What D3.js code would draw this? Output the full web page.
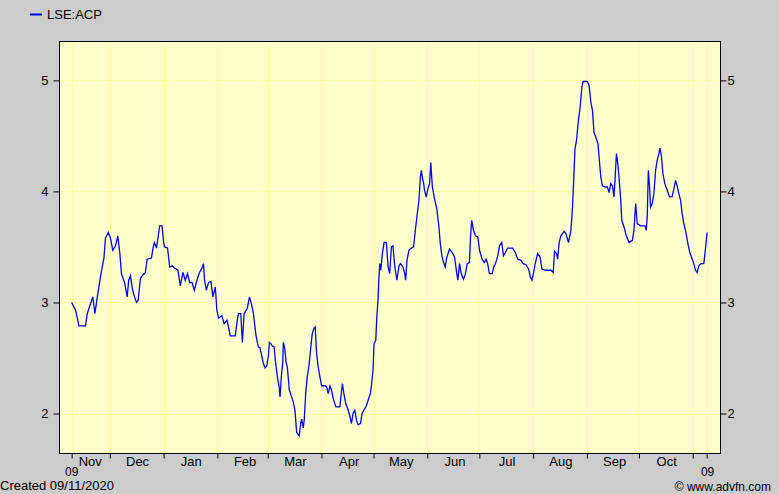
<!DOCTYPE html>
<html>
<head>
<meta charset="utf-8">
<script src="https://cdn.jsdelivr.net/npm/d3@7"></script>
<style>
  html, body { margin: 0; padding: 0; background: #cccccc; }
  svg { display: block; }
  text { font-family: "Liberation Sans", Arial, sans-serif; fill: #000; }
</style>
</head>
<body>
<svg id="chart" width="779" height="494"></svg>
<script>
// ---- data (days after 9 Nov 2019, closing price) ----
const seriesName = "LSE:ACP";
const dayOffsets = [0,1.3,2.3,4.2,8.0,9.0,10.5,12.2,13.4,14.8,16.7,18.6,19.5,21.1,22.4,23.7,25.3,26.6,27.8,28.7,30.5,32.0,32.9,33.9,34.9,36.2,37.4,38.3,39.7,41.2,42.5,43.5,46.0,47.0,47.7,48.9,50.2,50.7,52.1,53.0,53.6,55.3,56.5,57.9,59.2,61.3,62.6,64.2,65.5,66.8,68.0,69.4,70.7,72.2,73.7,75.1,76.0,76.6,77.6,78.9,80.3,81.4,82.8,83.7,84.7,86.6,87.9,89.5,90.4,91.4,94.3,95.2,96.1,97.5,98.4,99.4,101.3,102.5,103.4,104.8,105.2,106.3,107.6,108.6,109.6,110.5,111.5,112.5,113.4,114.0,114.8,115.5,116.7,117.4,118.6,119.7,120.1,120.9,121.7,122.0,122.8,123.6,124.3,125.5,126.8,127.8,128.7,129.7,131.2,132.0,132.6,133.5,134.1,134.9,135.8,136.8,137.8,138.7,139.7,140.4,141.2,142.1,143.1,144.1,146.0,147.0,147.9,148.9,149.8,150.7,152.3,154.6,155.6,156.1,156.9,158.0,159.4,160.3,161.3,162.2,163.2,164.2,165.1,166.5,167.4,168.4,169.9,171.3,172.2,172.8,173.7,174.3,175.3,175.9,176.6,177.0,177.6,178.2,179.1,180.1,181.4,182.4,183.3,184.3,185.2,186.2,187.5,188.7,189.5,191.0,192.0,192.5,193.3,194.4,195.8,197.1,198.1,199.0,200.2,201.0,201.6,202.1,202.9,203.4,204.4,205.3,206.3,207.0,207.9,209.2,210.5,211.7,212.5,213.4,214.4,215.3,216.3,217.8,219.4,220.7,222.0,222.6,223.6,224.5,225.9,227.0,228.0,229.3,229.9,230.6,231.6,232.8,234.1,235.1,236.6,237.9,238.9,239.8,240.8,242.4,243.3,244.3,245.6,246.6,247.9,248.9,250.0,251.3,254.2,255.7,257.1,259.0,260.3,261.9,263.4,264.4,265.3,266.3,267.2,268.6,270.0,271.1,273.4,276.3,277.6,278.3,279.5,280.1,281.0,282.0,283.9,284.9,286.4,287.8,288.7,289.3,290.1,291.0,292.1,293.1,294.1,294.8,297.3,298.3,299.3,300.2,301.1,302.1,303.4,304.0,305.0,305.9,307.5,308.8,309.8,310.7,311.7,312.6,313.2,314.0,314.8,315.5,316.5,317.1,318.4,319.7,321.3,323.2,324.1,325.1,326.0,328.0,330.5,331.2,331.8,332.4,333.1,333.7,334.7,335.6,336.6,337.5,338.5,339.1,340.0,340.8,341.9,343.3,344.6,346.1,347.1,348.1,349.0,350.0,351.0,351.9,352.9,354.2,355.2,356.3,357.7,358.6,359.6,360.5,361.5,362.8,364.4,365.3,366.3];
const prices = [3.00,2.96,2.93,2.79,2.79,2.90,2.97,3.05,2.90,3.05,3.24,3.40,3.58,3.63,3.58,3.47,3.51,3.60,3.44,3.26,3.18,3.05,3.20,3.24,3.13,3.05,3.00,3.02,3.22,3.25,3.27,3.39,3.40,3.50,3.54,3.49,3.63,3.69,3.69,3.54,3.50,3.49,3.32,3.33,3.31,3.29,3.15,3.27,3.20,3.26,3.18,3.18,3.11,3.20,3.27,3.31,3.35,3.20,3.11,3.18,3.19,3.05,3.14,2.93,2.86,2.88,2.81,2.84,2.78,2.70,2.70,2.81,2.90,2.90,2.64,2.90,2.95,3.05,3.00,2.90,2.84,2.70,2.60,2.59,2.52,2.45,2.41,2.43,2.52,2.64,2.63,2.61,2.60,2.48,2.33,2.23,2.15,2.34,2.46,2.64,2.59,2.46,2.42,2.21,2.15,2.10,2.03,1.83,1.80,1.91,1.95,1.87,1.95,2.18,2.33,2.43,2.59,2.72,2.77,2.78,2.54,2.42,2.33,2.25,2.25,2.24,2.18,2.25,2.21,2.14,2.06,2.06,2.21,2.27,2.18,2.09,2.03,1.98,1.91,2.00,2.03,1.94,1.90,1.91,2.00,2.03,2.07,2.14,2.18,2.25,2.39,2.63,2.66,2.87,3.02,3.18,3.35,3.29,3.44,3.54,3.54,3.32,3.26,3.50,3.51,3.33,3.20,3.33,3.35,3.32,3.26,3.20,3.38,3.47,3.49,3.50,3.65,3.77,3.92,4.13,4.19,4.13,4.07,4.01,3.95,4.02,4.07,4.26,4.04,3.93,3.84,3.68,3.53,3.42,3.36,3.32,3.41,3.48,3.45,3.41,3.26,3.20,3.35,3.26,3.21,3.26,3.35,3.36,3.59,3.74,3.65,3.60,3.59,3.47,3.39,3.36,3.39,3.35,3.26,3.26,3.32,3.35,3.42,3.51,3.54,3.42,3.45,3.49,3.49,3.45,3.39,3.38,3.35,3.34,3.30,3.23,3.20,3.27,3.35,3.44,3.41,3.30,3.29,3.29,3.27,3.46,3.44,3.39,3.54,3.60,3.64,3.62,3.54,3.65,3.86,4.07,4.38,4.46,4.64,4.76,4.94,4.99,4.99,4.95,4.80,4.73,4.53,4.49,4.43,4.31,4.13,4.05,4.04,4.04,3.99,4.07,4.05,3.95,4.10,4.34,4.25,4.13,3.92,3.74,3.68,3.60,3.54,3.56,3.65,3.89,3.71,3.69,3.69,3.65,3.78,4.19,4.05,3.86,3.89,3.98,4.19,4.28,4.34,4.39,4.31,4.16,4.07,4.01,3.95,3.95,4.02,4.10,4.05,3.98,3.92,3.80,3.71,3.62,3.53,3.45,3.39,3.35,3.29,3.27,3.33,3.35,3.35,3.48,3.63];
const yTickValues = [2, 3, 4, 5];
const monthLabels = ["Dec","Jan","Feb","Mar","Apr","May","Jun","Jul","Aug","Sep","Oct"];
const firstLabel = "Nov";
const yearLabel = "09";
const createdText = "Created 09/11/2020";
const creditText = "\u00A9 www.advfn.com";

// ---- layout ----
const W = 779, H = 494;
const plot = { left: 59.5, right: 720.5, top: 41.5, bottom: 453.5 };
const DAY = 864e5;
const startDate = new Date(Date.UTC(2019, 10, 9));
const endDate = new Date(Date.UTC(2020, 10, 9));

const x = d3.scaleUtc()
  .domain([new Date(Date.UTC(2019, 10, 2)), new Date(Date.UTC(2020, 10, 17))])
  .range([plot.left, plot.right]);
const y = d3.scaleLinear().domain([1.64, 5.35]).range([plot.bottom, plot.top]);

const data = d3.zip(dayOffsets, prices).map(([d, v]) => ({ date: new Date(startDate.getTime() + d * DAY), value: v }));

const monthStarts = d3.utcMonth.range(new Date(Date.UTC(2019, 11, 1)), new Date(Date.UTC(2020, 10, 2)));
const tickDates = [startDate, ...monthStarts, endDate];

const svg = d3.select("#chart");
svg.append("rect").attr("width", W).attr("height", H).attr("fill", "#cccccc");

// plot background
svg.append("rect")
  .attr("x", plot.left).attr("y", plot.top)
  .attr("width", plot.right - plot.left).attr("height", plot.bottom - plot.top)
  .attr("fill", "#ffffcc");

// gridlines
const grid = svg.append("g").attr("stroke", "#ffff99").attr("stroke-width", 1).attr("shape-rendering", "crispEdges");
grid.selectAll("line.v").data(tickDates).join("line")
  .attr("x1", d => Math.round(x(d)) + 0.5).attr("x2", d => Math.round(x(d)) + 0.5)
  .attr("y1", plot.top).attr("y2", plot.bottom);
grid.selectAll("line.h").data(yTickValues).join("line")
  .attr("x1", plot.left).attr("x2", plot.right)
  .attr("y1", d => Math.round(y(d)) + 0.5).attr("y2", d => Math.round(y(d)) + 0.5);

// series line
const line = d3.line().x(d => x(d.date)).y(d => y(d.value));
svg.append("path").datum(data)
  .attr("d", line)
  .attr("fill", "none")
  .attr("stroke", "#0000ff")
  .attr("stroke-width", 1.3)
  .attr("stroke-linejoin", "miter");

// border
svg.append("rect")
  .attr("x", plot.left).attr("y", plot.top)
  .attr("width", plot.right - plot.left).attr("height", plot.bottom - plot.top)
  .attr("fill", "none").attr("stroke", "#000").attr("stroke-width", 1);

// left axis
const leftAxis = d3.axisLeft(y).tickValues(yTickValues).tickSize(6).tickPadding(5).tickFormat(d3.format("d"));
const gl = svg.append("g").attr("transform", `translate(${plot.left},0)`).call(leftAxis);
gl.select(".domain").remove();
gl.selectAll("text").attr("font-size", 13).attr("font-family", "Liberation Sans, Arial, sans-serif");

// right axis
const rightAxis = d3.axisRight(y).tickValues(yTickValues).tickSize(6).tickPadding(1).tickFormat(d3.format("d"));
const gr = svg.append("g").attr("transform", `translate(${plot.right},0)`).call(rightAxis);
gr.select(".domain").remove();
gr.selectAll("text").attr("font-size", 13).attr("font-family", "Liberation Sans, Arial, sans-serif");

// bottom axis ticks
const bottomAxis = d3.axisBottom(x).tickValues(tickDates).tickSize(5).tickFormat("");
const gb = svg.append("g").attr("transform", `translate(0,${plot.bottom})`).call(bottomAxis);
gb.select(".domain").remove();

// month labels
const lab = svg.append("g").attr("font-size", 13);
lab.append("text").attr("x", x(startDate) + 7).attr("y", 466).text(firstLabel);
lab.selectAll("text.m").data(monthStarts.slice(0, monthLabels.length)).join("text")
  .attr("class", "m")
  .attr("x", d => x(d3.utcDay.offset(d, 16)))
  .attr("y", 466)
  .attr("text-anchor", "middle")
  .text((d, i) => monthLabels[i]);
lab.append("text").attr("x", x(startDate)).attr("y", 476).attr("font-size", 12).attr("text-anchor", "middle").text(yearLabel);
lab.append("text").attr("x", x(endDate) + 1).attr("y", 476).attr("font-size", 12).attr("text-anchor", "middle").text(yearLabel);

// footer
svg.append("text").attr("x", 0).attr("y", 490).attr("font-size", 13).text(createdText);
svg.append("text").attr("x", 771).attr("y", 491).attr("font-size", 12).attr("text-anchor", "end").text(creditText);

// legend
svg.append("line").attr("x1", 30).attr("x2", 42).attr("y1", 14.5).attr("y2", 14.5)
  .attr("stroke", "#0000ff").attr("stroke-width", 2);
svg.append("text").attr("x", 47).attr("y", 19).attr("font-size", 13).text(seriesName);
</script>
</body>
</html>
